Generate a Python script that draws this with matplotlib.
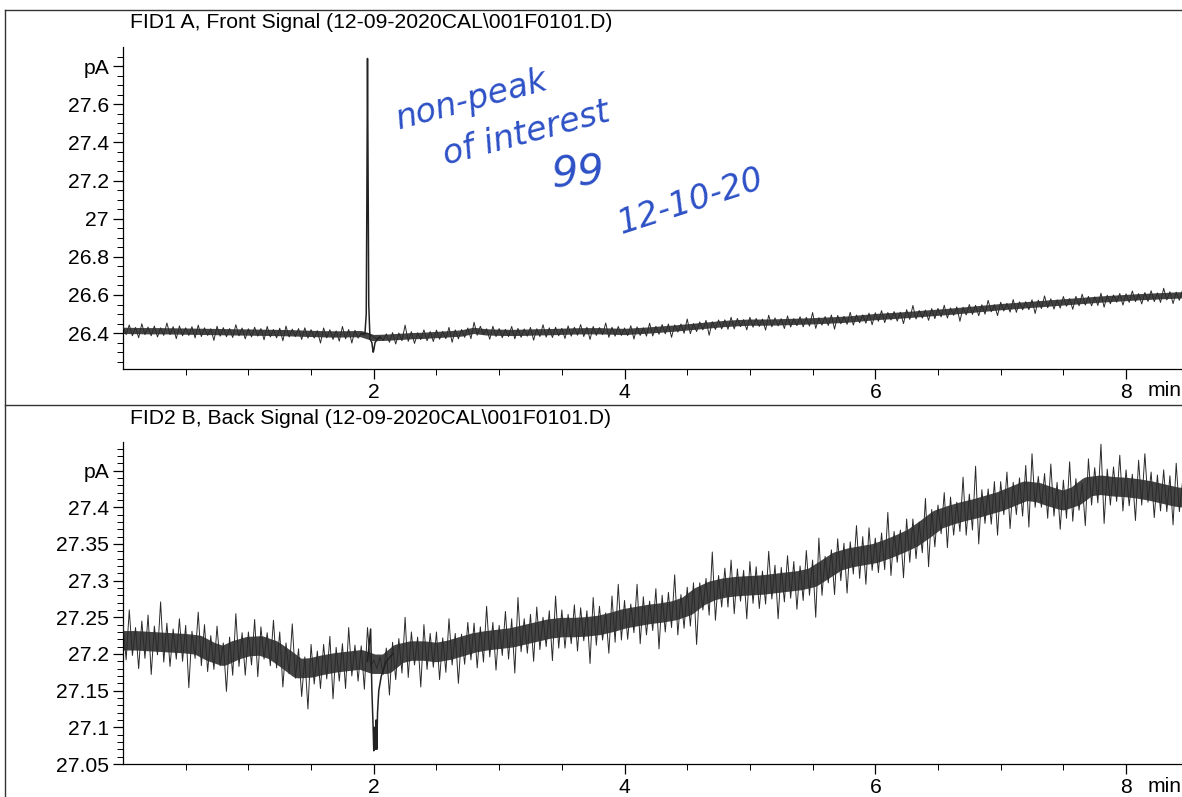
import numpy as np
import matplotlib
matplotlib.use("Agg")
import matplotlib.pyplot as plt
from matplotlib.lines import Line2D

plt.rcParams['font.family'] = ['Liberation Sans', 'DejaVu Sans']

W, H = 1182, 797

# ---- data ----
title1 = "FID1 A, Front Signal (12-09-2020CAL\\001F0101.D)"
title2 = "FID2 B, Back Signal (12-09-2020CAL\\001F0101.D)"

# baseline centre, every 0.1 min from 0 to 8.5
center1 = [26.412, 26.411, 26.410, 26.410, 26.409, 26.408, 26.407, 26.406, 26.405, 26.404,
           26.403, 26.402, 26.401, 26.400, 26.398, 26.396, 26.394, 26.393, 26.394, 26.395,
           26.374, 26.376, 26.380, 26.384, 26.386, 26.390, 26.394, 26.398, 26.412, 26.404,
           26.402, 26.401, 26.402, 26.404, 26.405, 26.407, 26.409, 26.410, 26.410, 26.408,
           26.406, 26.410, 26.414, 26.419, 26.424, 26.430, 26.436, 26.442, 26.448, 26.452,
           26.455, 26.455, 26.456, 26.458, 26.460, 26.462, 26.465, 26.468, 26.472, 26.478,
           26.484, 26.488, 26.492, 26.497, 26.502, 26.507, 26.512, 26.518, 26.524, 26.530,
           26.536, 26.541, 26.546, 26.551, 26.556, 26.561, 26.566, 26.571, 26.576, 26.580,
           26.584, 26.588, 26.591, 26.594, 26.597, 26.600]

center2 = [27.218, 27.218, 27.217, 27.216, 27.215, 27.214, 27.212, 27.203, 27.197, 27.205,
           27.210, 27.211, 27.205, 27.193, 27.180, 27.181, 27.185, 27.188, 27.190, 27.192,
           27.186, 27.186, 27.200, 27.204, 27.204, 27.202, 27.205, 27.210, 27.215, 27.218,
           27.220, 27.222, 27.226, 27.230, 27.234, 27.236, 27.236, 27.237, 27.239, 27.243,
           27.248, 27.251, 27.254, 27.256, 27.259, 27.265, 27.278, 27.286, 27.290, 27.292,
           27.293, 27.294, 27.296, 27.298, 27.300, 27.304, 27.315, 27.326, 27.331, 27.334,
           27.337, 27.343, 27.350, 27.358, 27.370, 27.383, 27.389, 27.394, 27.398, 27.403,
           27.408, 27.415, 27.422, 27.420, 27.414, 27.409, 27.415, 27.428, 27.430, 27.428,
           27.427, 27.425, 27.422, 27.418, 27.414, 27.412]

# noise extremes above / below the centre, every 0.05 min, in milli-pA
up1 = [24, 31, 19, 38, 22, 27, 18, 43, 25, 29, 20, 26, 35, 21, 17, 30, 24, 19, 40, 23,
       20, 28, 22, 33, 18, 25, 37, 21, 26, 30, 22, 17, 33, 24, 19, 42, 25, 21, 5, 5,
       5, 10, 20, 27, 21, 62, 24, 18, 31, 22, 26, 19, 36, 23, 21, 29, 45, 24, 19, 32,
       22, 18, 34, 24, 20, 28, 19, 40, 23, 26, 18, 31, 22, 36, 21, 25, 19, 43, 23, 27,
       21, 33, 23, 18, 38, 22, 26, 29, 19, 24, 44, 20, 23, 31, 18, 27, 22, 35, 25, 19,
       28, 22, 19, 39, 24, 20, 32, 18, 26, 23, 46, 19, 22, 30, 25, 20, 37, 23, 18, 27,
       23, 34, 20, 25, 18, 31, 48, 22, 19, 27, 23, 39, 20, 26, 18, 32, 22, 25, 42, 19,
       26, 20, 35, 23, 19, 29, 22, 44, 24, 18, 31, 20, 27, 38, 22, 19, 33, 23, 20, 28,
       22, 37, 19, 25, 31, 20, 41, 23, 18, 27, 22]
dn1 = [20, 26, 35, 19, 24, 30, 22, 18, 38, 23, 20, 33, 25, 19, 44, 22, 24, 28, 18, 34,
       23, 19, 37, 22, 26, 41, 20, 18, 31, 24, 22, 48, 19, 27, 35, 23, 46, 20, 5, 5,
       5, 12, 24, 33, 20, 23, 38, 18, 26, 30, 22, 19, 42, 24, 20, 27, 23, 18, 36, 22,
       26, 20, 31, 23, 18, 39, 22, 25, 28, 19, 35, 23, 20, 27, 43, 22, 18, 32, 24, 20,
       19, 37, 22, 26, 29, 20, 23, 41, 18, 25, 33, 22, 19, 47, 23, 20, 28, 26, 18, 35,
       24, 20, 39, 22, 18, 32, 26, 19, 27, 23, 37, 20, 25, 44, 19, 22, 30, 18, 26, 34,
       22, 29, 19, 25, 42, 20, 23, 18, 35, 26, 22, 28, 19, 50, 23, 20, 33, 25, 18, 38,
       20, 26, 32, 19, 23, 43, 22, 18, 30, 25, 20, 36, 23, 19, 28, 26, 40, 22, 18, 33,
       23, 19, 35, 22, 26, 30, 20, 39, 25, 19, 27]
up2 = [24, 42, 18, 27, 36, 21, 55, 26, 19, 33, 25, 17, 45, 28, 22, 35, 18, 26, 50, 24,
       20, 37, 26, 18, 41, 25, 22, 48, 27, 16, 32, 23, 28, 39, 21, 26, 46, 22, 19, 44,
       6, 10, 22, 30, 21, 50, 26, 19, 36, 24, 28, 20, 43, 23, 17, 33, 27, 22, 47, 25,
       19, 38, 26, 55, 22, 28, 34, 20, 25, 45, 24, 18, 31, 27, 22, 40, 26, 17, 36, 52,
       25, 20, 44, 27, 18, 35, 24, 28, 49, 22, 26, 32, 19, 25, 53, 21, 27, 38, 24, 22,
       33, 26, 19, 46, 25, 22, 36, 28, 20, 41, 24, 54, 18, 27, 31, 25, 22, 44, 26, 38,
       21, 28, 50, 24, 19, 34, 26, 22, 42, 27, 20, 37, 25, 18, 47, 24, 58, 26, 22, 32,
       27, 40, 19, 25, 35, 51, 22, 26, 45, 20, 28, 53, 24, 18, 38, 26, 56, 22, 27, 43,
       24, 18, 39, 48, 26, 22, 33, 25, 46, 20, 27]
dn2 = [26, 20, 38, 24, 45, 18, 27, 33, 22, 25, 60, 20, 28, 36, 24, 19, 48, 26, 22, 34,
       25, 41, 18, 27, 24, 50, 20, 26, 38, 55, 22, 28, 19, 46, 25, 35, 20, 27, 40, 10,
       6, 14, 42, 21, 26, 32, 19, 49, 25, 22, 37, 27, 20, 45, 24, 18, 34, 26, 22, 40,
       22, 27, 48, 19, 25, 36, 24, 20, 43, 26, 28, 22, 32, 18, 50, 25, 20, 38, 27, 24,
       28, 19, 37, 25, 22, 47, 26, 20, 33, 24, 27, 52, 18, 25, 40, 22, 26, 35, 20, 44,
       24, 31, 26, 19, 48, 25, 22, 37, 27, 20, 54, 24, 18, 34, 26, 43, 22, 28, 39, 20,
       26, 22, 36, 18, 46, 25, 28, 20, 51, 24, 19, 38, 27, 22, 32, 25, 48, 20, 26, 41,
       18, 37, 25, 27, 49, 22, 20, 35, 26, 44, 24, 28, 19, 40, 25, 22, 52, 27, 20, 33,
       25, 45, 22, 18, 36, 27, 24, 42, 20, 26, 31]

# sharp features
peak1_t = [1.90, 1.93, 1.94, 1.945, 1.95, 1.955, 1.96, 1.97, 1.985, 1.995, 2.0, 2.01, 2.03, 2.05]
peak1_y = [26.395, 26.40, 26.50, 27.10, 27.84, 27.20, 26.55, 26.37, 26.35, 26.30, 26.31, 26.35, 26.37, 26.376]
dip2_t = [1.95, 1.975, 1.985, 1.995, 2.0, 2.005, 2.012, 2.018, 2.024, 2.03, 2.04, 2.06, 2.08, 2.1, 2.15]
dip2_y = [27.19, 27.234, 27.15, 27.10, 27.068, 27.10, 27.07, 27.11, 27.07, 27.12, 27.15, 27.17, 27.18, 27.19, 27.20]

yt1 = [26.4, 26.6, 26.8, 27.0, 27.2, 27.4, 27.6, 27.8]
yl1 = ['26.4', '26.6', '26.8', '27', '27.2', '27.4', '27.6', 'pA']
yt2 = [27.05, 27.1, 27.15, 27.2, 27.25, 27.3, 27.35, 27.4, 27.45]
yl2 = ['27.05', '27.1', '27.15', '27.2', '27.25', '27.3', '27.35', '27.4', 'pA']
xt = [2, 4, 6, 8]

notes = [("non-peak", 472, 100, 15, 24), ("of interest", 526, 134, 15, 24),
         ("99", 578, 174, 4, 30), ("12-10-20", 690, 202, 18, 24)]

# ---- drawing ----
fig = plt.figure(figsize=(W / 100, H / 100), dpi=100)
FS = 15.2


def fx(x):
    return x / W


def fy(y):
    return 1 - y / H


def trace(ax, center, up, dn, core_lw):
    tc = np.round(np.arange(len(center)) * 0.1, 3)
    ax.plot(tc, center, color='#444444', lw=core_lw, solid_joinstyle='round',
            solid_capstyle='butt', zorder=2)
    n = len(up)
    ts = np.round(np.arange(n) * 0.05, 3)
    c = np.repeat(center, 2)[:n]
    tt = np.empty(2 * n)
    yy = np.empty(2 * n)
    tt[0::2] = ts
    tt[1::2] = ts + 0.025
    yy[0::2] = c + np.array(up) / 1000
    yy[1::2] = c - np.array(dn) / 1000
    ax.plot(tt, yy, color='#2a2a2a', lw=0.7, zorder=3)


def style(ax, ylim, yt, yl, yminor):
    ax.set_xlim(0, (W - 122) / 125.5)
    ax.set_ylim(*ylim)
    for s in ['top', 'right']:
        ax.spines[s].set_visible(False)
    ax.spines['left'].set_linewidth(0.9)
    ax.spines['bottom'].set_linewidth(0.9)
    ax.set_xticks(xt)
    ax.set_xticklabels([str(v) for v in xt])
    ax.set_xticks(np.arange(0.5, 8.5, 0.5), minor=True)
    ax.set_yticks(yt)
    ax.set_yticklabels(yl)
    ax.set_yticks(yminor, minor=True)
    ax.tick_params(which='major', length=7, width=0.9, labelsize=FS, pad=3)
    ax.tick_params(which='minor', length=4, width=0.7)
    ax.set_facecolor('none')


ax1 = fig.add_axes([fx(123), fy(369), 1 - fx(123), fy(47) - fy(369)])
trace(ax1, center1, up1, dn1, 4.5)
ax1.plot(peak1_t, peak1_y, color='#222222', lw=1.1, zorder=4)
style(ax1, (26.212, 27.9), yt1, yl1, np.round(np.arange(26.25, 27.9, 0.05), 3))

ax2 = fig.add_axes([fx(123), fy(764), 1 - fx(123), fy(442) - fy(764)])
trace(ax2, center2, up2, dn2, 14)
ax2.plot(dip2_t, dip2_y, color='#222222', lw=1.1, zorder=4)
style(ax2, (27.05, 27.489), yt2, yl2, np.round(np.arange(27.06, 27.49, 0.01), 3))

fig.text(fx(130), fy(22), title1, fontsize=FS, va='center', ha='left')
fig.text(fx(130), fy(418), title2, fontsize=FS, va='center', ha='left')
fig.text(fx(1148), fy(391), "min", fontsize=FS, va='center', ha='left')
fig.text(fx(1148), fy(786), "min", fontsize=FS, va='center', ha='left')

for txt, x, y, rot, size in notes:
    fig.text(fx(x), fy(y), txt, fontsize=size, color='#2d50c6', rotation=rot,
             ha='center', va='center', style='italic', family=['DejaVu Sans'])

# page frame of the printout
frame = dict(color='#333333', lw=1.0, transform=fig.transFigure)
fig.add_artist(Line2D([fx(5), fx(5)], [fy(10), fy(797)], **frame))
fig.add_artist(Line2D([fx(5), 1], [fy(10), fy(10)], **frame))
fig.add_artist(Line2D([fx(5), 1], [fy(405), fy(405)], **frame))

fig.savefig('out.png', dpi=100)
